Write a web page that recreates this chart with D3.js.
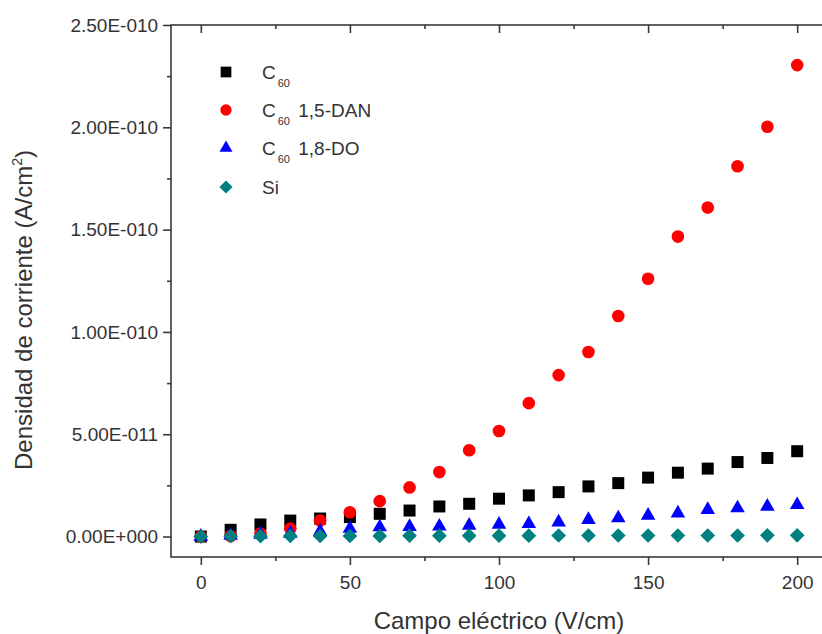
<!DOCTYPE html>
<html><head><meta charset="utf-8">
<script src="https://cdn.jsdelivr.net/npm/d3@7"></script>
<style>body{margin:0;background:#fff}svg{display:block}</style>
</head><body>
<svg id="c" width="822" height="634"></svg>
<script>
const fields = [0,10,20,30,40,50,60,70,80,90,100,110,120,130,140,150,160,170,180,190,200];
const c60 = [0,3.3,5.9,7.8,8.8,9.5,11.1,12.7,14.7,16.0,18.5,20.1,21.7,24.5,26.1,28.8,31.2,33.2,36.4,38.4,41.7].map(v=>v*1e-12);
const c60dan = [0,0.3,1.5,3.9,7.8,11.9,17.3,24.0,31.5,42.2,51.6,65.2,78.9,90.2,107.8,126.0,146.6,160.8,181.0,200.3,230.4].map(v=>v*1e-12);
const c60do = [0,0.5,1.0,1.5,2.5,3.9,4.6,4.8,5.0,5.4,5.9,6.2,7.0,8.2,9.0,10.3,11.4,13.1,13.9,14.7,15.5].map(v=>v*1e-12);
const si = [0,0.2,0.2,0.3,0.3,0.3,0.3,0.4,0.4,0.4,0.4,0.4,0.5,0.5,0.5,0.5,0.5,0.5,0.5,0.6,0.6].map(v=>v*1e-12);
const xTicks = [0,50,100,150,200];
const xMinor = [25,75,125,175];
const yTicks = [0,5e-11,1e-10,1.5e-10,2e-10,2.5e-10];
const yTickLabels = ["0.00E+000","5.00E-011","1.00E-010","1.50E-010","2.00E-010","2.50E-010"];
const yMinor = [2.5e-11,7.5e-11,1.25e-10,1.75e-10,2.25e-10];
const series = [
  {name:"C", sub:"60", rest:"", data:c60, color:"#000000", sym:d3.symbolSquare, size:144, rot:0},
  {name:"C", sub:"60", rest:" 1,5-DAN", data:c60dan, color:"#ff0000", sym:d3.symbolCircle, size:125, rot:0},
  {name:"C", sub:"60", rest:" 1,8-DO", data:c60do, color:"#0000ff", sym:d3.symbolTriangle, size:92, rot:0},
  {name:"Si", sub:"", rest:"", data:si, color:"#008080", sym:d3.symbolSquare, size:108, rot:45}
];

const svg = d3.select("#c");
const L=171, T=25, B=557, R=827;
const x = d3.scaleLinear().domain([-10,210]).range([L,R]);
const y = d3.scaleLinear().domain([-1e-11,2.5e-10]).range([B,T]);
const font = "'Liberation Sans', Arial, sans-serif";
const axc = "#3a3a3a";

svg.append("rect").attr("x",L).attr("y",T).attr("width",R-L).attr("height",B-T)
  .attr("fill","none").attr("stroke",axc).attr("stroke-width",1.6);

const gx = svg.append("g").attr("transform",`translate(0,${B})`)
  .call(d3.axisBottom(x).tickValues(xTicks).tickSize(8).tickFormat(d3.format("d")));
const gxm = svg.append("g").attr("transform",`translate(0,${B})`)
  .call(d3.axisBottom(x).tickValues(xMinor).tickSize(4).tickFormat(""));
const gt = svg.append("g").attr("transform",`translate(0,${T})`)
  .call(d3.axisBottom(x).tickValues(xTicks).tickSize(8).tickFormat(""));
const gtm = svg.append("g").attr("transform",`translate(0,${T})`)
  .call(d3.axisBottom(x).tickValues(xMinor).tickSize(4).tickFormat(""));
const gy = svg.append("g").attr("transform",`translate(${L},0)`)
  .call(d3.axisLeft(y).tickValues(yTicks).tickSize(8).tickFormat((d,i)=>yTickLabels[i]));
const gym = svg.append("g").attr("transform",`translate(${L},0)`)
  .call(d3.axisLeft(y).tickValues(yMinor).tickSize(4).tickFormat(""));

[gx,gxm,gt,gtm,gy,gym].forEach(g=>{
  g.select(".domain").remove();
  g.selectAll("line").attr("stroke",axc).attr("stroke-width",1.6);
  g.selectAll("text").attr("fill","#333").attr("font-family",font).attr("font-size",19);
});
gx.selectAll("text").attr("y",32).attr("dy",0);
gy.selectAll("text").attr("dx","-0.1em");

svg.append("text").attr("x",(x(0)+x(200))/2).attr("y",629).attr("text-anchor","middle")
  .attr("font-family",font).attr("font-size",24).attr("fill","#333").text("Campo eléctrico (V/cm)");
const yl = svg.append("text").attr("transform","translate(32,310) rotate(-90)").attr("text-anchor","middle")
  .attr("font-family",font).attr("font-size",24).attr("fill","#333");
yl.append("tspan").text("Densidad de corriente (A/cm");
yl.append("tspan").attr("font-size",14).attr("dy",-10).text("2");
yl.append("tspan").attr("dy",10).text(")");

series.forEach(s=>{
  svg.append("g").selectAll("path").data(fields.map((f,i)=>[f,s.data[i]])).join("path")
    .attr("transform",d=>`translate(${x(d[0])},${y(d[1])}) rotate(${s.rot})`)
    .attr("d",d3.symbol().type(s.sym).size(s.size)).attr("fill",s.color);
});

const ly = [72,110,148,187];
series.forEach((s,i)=>{
  svg.append("path").attr("transform",`translate(226,${ly[i]}) rotate(${s.rot})`)
    .attr("d",d3.symbol().type(s.sym).size(s.size*0.8)).attr("fill",s.color);
  const t = svg.append("text").attr("x",262).attr("y",ly[i]+7).attr("font-family",font)
    .attr("font-size",19).attr("fill","#333");
  t.append("tspan").text(s.name);
  if(s.sub){
    t.append("tspan").attr("font-size",11).attr("dy",8).attr("dx",2).text(s.sub);
    t.append("tspan").attr("dy",-8).attr("dx",3).text(s.rest);
  }
});
</script>
</body></html>
